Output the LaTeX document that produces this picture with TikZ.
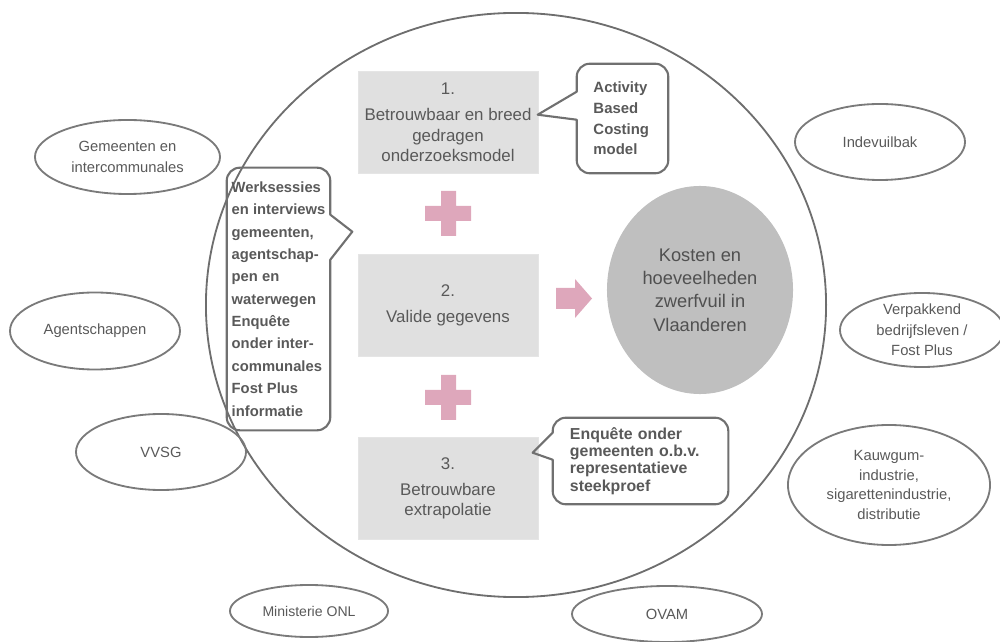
\documentclass[tikz,border=0pt]{standalone}
\usepackage{fontspec}
\setmainfont{Liberation Sans}
\usetikzlibrary{shapes.geometric}
\definecolor{txt}{HTML}{595959}
\definecolor{edge}{HTML}{7A7A7A}
\definecolor{calledge}{HTML}{707070}
\definecolor{boxfill}{HTML}{E0E0E0}
\definecolor{pinkc}{HTML}{DEA7BB}
\definecolor{disc}{HTML}{BFBFBF}
\definecolor{bigedge}{HTML}{6E6E6E}
\tikzset{
  ell/.style={ellipse, draw=edge, line width=1.3pt, text=txt, align=center, inner sep=0pt,
    font=\fontsize{10.5}{14.5}\selectfont},
  stepbox/.style={rectangle, fill=boxfill, draw=boxfill!85!white, minimum width=4.5cm, minimum height=2.55cm,
    text=txt, align=center, font=\fontsize{12}{14.6}\selectfont},
  calltext/.style={rectangle, text=txt, align=left, inner ysep=0pt,
    font=\bfseries\fontsize{10.6}{14.7}\selectfont},
  callline/.style={draw=calledge, line width=1.5pt, line join=round},
  pinkshape/.style={fill=pinkc, draw=none}
}
\begin{document}
\begin{tikzpicture}[x=0.025cm,y=-0.025cm]
\useasboundingbox (0,0) rectangle (1000,642);

% big circle
\node[ellipse, draw=bigedge, line width=1.3pt, minimum width=15.5cm, minimum height=14.6cm, inner sep=0pt] (big) at (516,305) {};

% outer ellipses
\node[ell, minimum width=4.625cm, minimum height=1.85cm] (gem) at (127.5,157) {Gemeenten en\\intercommunales};
\node[ell, minimum width=4.25cm, minimum height=1.9cm] (ind) at (880,142) {Indevuilbak};
\node[ell, minimum width=4.25cm, minimum height=1.925cm] (age) at (95,331) {Agentschappen};
\node[ell, minimum width=4.1cm, minimum height=1.85cm] (ver) at (922,330) {Verpakkend\\bedrijfsleven /\\Fost Plus};
\node[ell, minimum width=4.25cm, minimum height=1.9cm] (vvsg) at (161,452) {VVSG};
\node[ell, minimum width=5.05cm, minimum height=3.0cm, font=\fontsize{10.5}{13.8}\selectfont] (kau) at (889,485) {Kauwgum-\\industrie,\\sigaretten\-industrie,\\distributie};
\node[ell, minimum width=3.95cm, minimum height=1.3cm, font=\fontsize{10}{14}\selectfont] (min) at (309,611) {Ministerie ONL};
\node[ell, minimum width=4.75cm, minimum height=1.4cm] (ovam) at (667,614) {OVAM};

% step boxes
\node[stepbox] (s1) at (448,122.5) {1.\\[4pt]Betrouwbaar en breed\\gedragen\\onderzoeksmodel};
\node[stepbox] (s2) at (448,305) {2.\\[4pt]Valide gegevens};
\node[stepbox] (s3) at (448,488.5) {3.\\[4pt]Betrouwbare\\extrapolatie};

% pluses
\fill[pinkshape] (425,206) -- (441,206) -- (441,191) -- (456,191) -- (456,206) -- (471,206) -- (471,221) -- (456,221) -- (456,236) -- (441,236) -- (441,221) -- (425,221) -- cycle;
\fill[pinkshape] (425,390) -- (441,390) -- (441,375) -- (456,375) -- (456,390) -- (471,390) -- (471,405) -- (456,405) -- (456,420) -- (441,420) -- (441,405) -- (425,405) -- cycle;
% arrow
\fill[pinkshape] (556,288) -- (575,288) -- (575,279) -- (592,298.5) -- (575,318) -- (575,309) -- (556,309) -- cycle;

% central disc
\node[ellipse, fill=disc, minimum width=4.65cm, minimum height=5.2cm, inner sep=0pt, text=txt!90!black, align=center,
  font=\fontsize{13}{16.6}\selectfont] (kost) at (700,290) {Kosten en\\hoeveelheden\\zwerfvuil in\\Vlaanderen};

% callout 1
\node[calltext, minimum width=2.275cm, minimum height=2.725cm, text width=1.45cm, inner xsep=0.4125cm] (abc) at (622.5,118.5) {Activity\\Based\\Costing\\model};
\draw[callline] (abc.north) [rounded corners=0.33cm] -- (abc.north east) -- (abc.south east) -- (abc.south west)
  [sharp corners] -- ([yshift=-1.4cm]abc.north west) -- ([xshift=-0.975cm,yshift=-1.275cm]abc.north west)
  -- ([yshift=-0.7cm]abc.north west) [rounded corners=0.33cm] -- (abc.north west) -- cycle;

% callout 2
\node[calltext, minimum width=2.575cm, minimum height=6.55cm, inner xsep=0.1cm,
  font=\bfseries\fontsize{10.5}{15.9}\selectfont] (wk) at (278.5,299) {Werksessies\\en interviews\\gemeenten,\\agentschap-\\pen en\\waterwegen\\Enquête\\onder inter-\\communales\\Fost Plus\\informatie};
\draw[callline] (wk.north) [rounded corners=0.33cm] -- (wk.north east)
  [sharp corners] -- ([yshift=-1.175cm]wk.north east) -- ([xshift=0.55cm,yshift=-1.6cm]wk.north east)
  -- ([yshift=-2.3cm]wk.north east) [rounded corners=0.33cm] -- (wk.south east) -- (wk.south west) -- (wk.north west) -- cycle;

% callout 3
\node[calltext, minimum width=4.375cm, minimum height=2.15cm, text width=3.525cm, inner xsep=0.425cm,
  font=\bfseries\fontsize{11.3}{12.2}\selectfont] (enq) at (640.5,461) {Enquête onder\\gemeenten o.b.v.\\representatieve\\steekproef};
\draw[callline] (enq.north) [rounded corners=0.33cm] -- (enq.north east) -- (enq.south east) -- (enq.south west)
  [sharp corners] -- ([yshift=-1.05cm]enq.north west) -- ([xshift=-0.5cm,yshift=-0.875cm]enq.north west)
  -- ([yshift=-0.375cm]enq.north west) [rounded corners=0.33cm] -- (enq.north west) -- cycle;
\end{tikzpicture}
\end{document}
